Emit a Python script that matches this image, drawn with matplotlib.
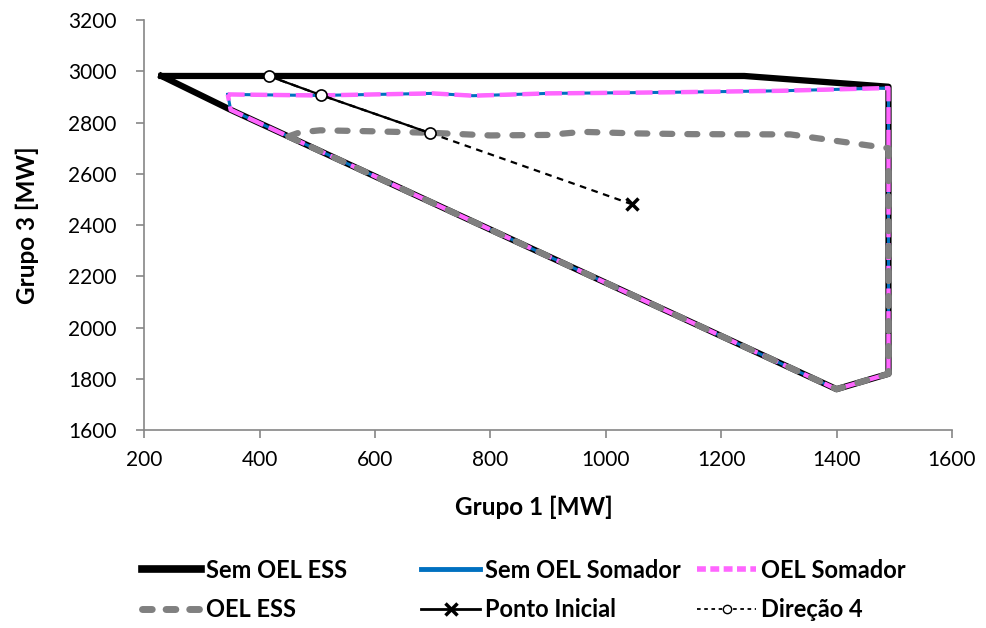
import matplotlib.pyplot as plt
from matplotlib.lines import Line2D

plt.rcParams['font.family'] = ['Lato', 'DejaVu Sans']

# Sem OEL ESS
sem_ess_x = [230, 1240, 1490, 1490, 1400, 350, 230]
sem_ess_y = [2982, 2982, 2940, 1820, 1760, 2850, 2982]

# Sem OEL Somador / OEL Somador (mesma fronteira)
somador_x = [345, 420, 500, 600, 700, 770, 900, 1100, 1300, 1490, 1490, 1400, 350, 345]
somador_y = [2910, 2908, 2906, 2910, 2914, 2905, 2914, 2918, 2924, 2935, 1820, 1760, 2850, 2910]

# OEL ESS
oel_ess_x = [450, 470, 505, 600, 700, 800, 900, 960, 1050, 1150, 1320, 1490, 1490, 1400, 450]
oel_ess_y = [2746, 2762, 2770, 2766, 2760, 2750, 2752, 2764, 2758, 2755, 2754, 2700, 1820, 1760, 2746]

# Ponto inicial e direcao 4
ponto_x = [1046]
ponto_y = [2481]
direcao_x = [1046, 696, 507, 417]
direcao_y = [2481, 2759, 2907, 2981]

fig = plt.figure(figsize=(9.87, 6.28), dpi=100)
ax = fig.add_axes([0.146, 0.315, 0.8185, 0.653])

ax.plot(sem_ess_x, sem_ess_y, color='black', lw=4.5, solid_joinstyle='round', zorder=2)
ax.plot(somador_x, somador_y, color='#0070C0', lw=2.2, zorder=3)
ax.plot(somador_x, somador_y, color='#FF66FF', lw=3.2, dashes=(3.8, 1.3), zorder=4)
ax.plot(oel_ess_x, oel_ess_y, color='#808080', lw=4.5, dashes=(1.6, 2.4),
        dash_capstyle='round', zorder=5)

ax.plot(direcao_x, direcao_y, color='black', lw=1.6, dashes=(3, 2.5), zorder=6)
ax.plot(direcao_x[1:], direcao_y[1:], color='black', lw=1.6, zorder=6)
ax.plot(direcao_x[1:], direcao_y[1:], ls='none', marker='o', ms=8, mfc='white',
        mec='black', mew=1.2, zorder=7)
ax.plot(ponto_x, ponto_y, ls='none', marker='x', ms=9, mec='black', mew=2.5, zorder=7)

ax.set_xlim(200, 1600)
ax.set_ylim(1600, 3200)
ax.set_xticks(range(200, 1601, 200))
ax.set_yticks(range(1600, 3201, 200))
for s in ['top', 'right']:
    ax.spines[s].set_visible(False)
for s in ['left', 'bottom']:
    ax.spines[s].set_color('#868686')
    ax.spines[s].set_linewidth(1.2)
ax.tick_params(direction='out', length=6, width=1.2, color='#868686', labelsize=15)
ax.tick_params(axis='x', pad=8)
ax.tick_params(axis='y', pad=14)
ax.set_xlabel('Grupo 1 [MW]', fontsize=17.5, fontweight='bold', labelpad=18)
ax.xaxis.set_label_coords(0.483, -0.16)
ax.set_ylabel('Grupo 3 [MW]', fontsize=17.5, fontweight='bold', labelpad=21)

# legenda em 3 colunas de largura igual (como no Excel)
columns = [
    ([Line2D([], [], color='black', lw=5.5),
      Line2D([], [], color='#808080', lw=5, dashes=(1.4, 2.0), dash_capstyle='round')],
     ['Sem OEL ESS', 'OEL ESS'], 142),
    ([Line2D([], [], color='#0070C0', lw=3.5),
      Line2D([], [], color='black', lw=2, marker='x', ms=8, mew=2.5)],
     ['Sem OEL Somador', 'Ponto Inicial'], 421),
    ([Line2D([], [], color='#FF66FF', lw=4, dashes=(1.6, 0.8)),
      Line2D([], [], color='black', lw=1.3, dashes=(2, 2), marker='o', ms=6,
             mfc='white', mec='black', mew=1)],
     ['OEL Somador', 'Direção 4'], 697),
]
for hs, ls, xpix in columns:
    leg = fig.legend(hs, ls, loc='center left', bbox_to_anchor=(xpix / 987, 0.0605),
                     frameon=False, prop={'size': 17, 'weight': 'bold'},
                     handlelength=2.5, handletextpad=0.2, labelspacing=0.7,
                     borderpad=0, borderaxespad=0)

fig.savefig('out.png', dpi=100)
